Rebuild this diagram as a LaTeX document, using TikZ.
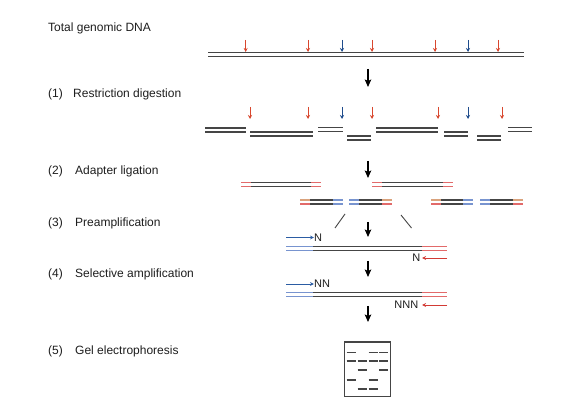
\documentclass[tikz,border=0pt]{standalone}
\usepackage{fontspec}
\setmainfont{Liberation Sans}
\usetikzlibrary{arrows.meta}
\definecolor{dna}{HTML}{454545}
\definecolor{txt}{HTML}{1E1E1E}
\definecolor{cutred}{HTML}{D8472E}
\definecolor{cutblue}{HTML}{1F4C8C}
\definecolor{adred}{HTML}{E26A6A}
\definecolor{adblue}{HTML}{7894CF}
\definecolor{adtan}{HTML}{D9A27C}
\definecolor{primblue}{HTML}{2B5CA3}
\definecolor{primred}{HTML}{D23A34}
\tikzset{
  lbl/.style={anchor=base west, inner sep=0pt, text=txt, font=\fontsize{12}{14}\selectfont},
  nlbl/.style={inner sep=0pt, text=txt, font=\fontsize{11}{12}\selectfont},
  strand/.style={line width=1.4pt, draw=dna},
  cutarrow/.style={line width=1pt, -{Stealth[length=4pt,width=4pt]}},
  bigarrow/.style={line width=1.9pt, draw=black, -{Stealth[length=7.5pt,width=6.5pt,inset=1.5pt]}},
  primer/.style={line width=0.9pt, -{Stealth[length=4pt,width=3.8pt]}},
  band/.style={line width=1.4pt, draw=dna},
}
\newcommand\dstrand[3]{\draw[strand] (#1,#3) -- (#2,#3); \draw[strand] (#1,#3+4) -- (#2,#3+4);}
\newcommand\colseg[5]{\draw[line width=1.4pt, draw=#4] (#1,#3) -- (#2,#3); \draw[line width=1.4pt, draw=#5] (#1,#3+4) -- (#2,#3+4);}
\begin{document}
\begin{tikzpicture}[x=1pt,y=-1pt]
\useasboundingbox[fill=white] (0,0) rectangle (575,411);

% labels
\node[lbl] (t0) at (48,31.5) {Total genomic DNA};
\node[lbl] (n1) at (48,97.3) {(1)};
\node[lbl] (t1) at (73,97.3) {Restriction digestion};
\node[lbl] (n2) at (48,174.3) {(2)};
\node[lbl] (t2) at (75,174.3) {Adapter ligation};
\node[lbl] (n3) at (48,226.7) {(3)};
\node[lbl] (t3) at (75,226.7) {Preamplification};
\node[lbl] (n4) at (48,277.7) {(4)};
\node[lbl] (t4) at (75,277.7) {Selective amplification};
\node[lbl] (n5) at (48,354) {(5)};
\node[lbl] (t5) at (75,354) {Gel electrophoresis};

% genomic DNA
\dstrand{208}{524}{52.5}
\foreach \x/\c in {245.7/cutred,308/cutred,342/cutblue,372/cutred,435/cutred,468/cutblue,498/cutred}
  \draw[cutarrow, \c] (\x,40) -- (\x,52);

% big arrows
\coordinate (a1s) at (368,69); \coordinate (a1e) at (368,87);
\draw[bigarrow] (a1s) -- (a1e);

% restriction fragments
\dstrand{205}{246}{128}
\dstrand{250}{313}{132}
\dstrand{318}{343}{127.5}
\dstrand{347}{371}{136}
\dstrand{376}{438}{128}
\dstrand{444}{468}{132}
\dstrand{477}{501}{136}
\dstrand{508}{532}{127.5}
\foreach \x/\c in {250/cutred,308/cutred,342/cutblue,372/cutred,438/cutred,468/cutblue,502/cutred}
  \draw[cutarrow, \c] (\x,107) -- (\x,119);

\coordinate (a2s) at (368,161); \coordinate (a2e) at (368,178);
\draw[bigarrow] (a2s) -- (a2e);

% adapter ligation
\dstrand{251}{311}{182.5}
\colseg{241}{251}{182.5}{adred}{adred}
\colseg{311}{321}{182.5}{adred}{adred}
\dstrand{382}{443}{182.5}
\colseg{372}{382}{182.5}{adred}{adred}
\colseg{443}{453}{182.5}{adred}{adred}

\dstrand{310}{333}{200}
\colseg{300}{310}{200}{adtan}{adred}
\colseg{333}{343}{200}{adblue}{adblue}
\dstrand{359}{382}{200}
\colseg{349}{359}{200}{adblue}{adblue}
\colseg{382}{392}{200}{adtan}{adred}
\dstrand{441}{463}{200}
\colseg{431}{441}{200}{adtan}{adred}
\colseg{463}{473}{200}{adblue}{adblue}
\dstrand{490}{513}{200}
\colseg{480}{490}{200}{adblue}{adblue}
\colseg{513}{523}{200}{adtan}{adred}

% selection lines
\draw[line width=0.9pt, dna] (335,228) -- (345,214);
\draw[line width=0.9pt, dna] (401,215) -- (411.5,228);

\coordinate (a3s) at (368,222); \coordinate (a3e) at (368,237);
\draw[bigarrow] (a3s) -- (a3e);

% preamplification
\node[nlbl, anchor=west] (pn1) at (314,237.5) {N};
\coordinate (pb1) at (286,237.5);
\draw[primer, primblue] (pb1) -- (pn1.west);
\dstrand{313}{422}{246.5}
\colseg{286}{313}{246.5}{adblue}{adblue}
\colseg{422}{447}{246.5}{adred}{adred}
\node[nlbl, anchor=east] (pn2) at (420.5,258) {N};
\coordinate (pr1) at (447,258);
\draw[primer, primred] (pr1) -- ([xshift=1.5pt]pn2.east);

\coordinate (a4s) at (368,261); \coordinate (a4e) at (368,277);
\draw[bigarrow] (a4s) -- (a4e);

% selective amplification
\node[nlbl, anchor=west] (sn1) at (314,284) {NN};
\coordinate (sb1) at (286,284);
\draw[primer, primblue] (sb1) -- (sn1.west);
\dstrand{313}{422}{292.5}
\colseg{286}{313}{292.5}{adblue}{adblue}
\colseg{422}{447}{292.5}{adred}{adred}
\node[nlbl, anchor=east] (sn2) at (418.5,305) {NNN};
\coordinate (sr1) at (447,305);
\draw[primer, primred] (sr1) -- ([xshift=3.5pt]sn2.east);

\coordinate (a5s) at (368,306); \coordinate (a5e) at (368,322);
\draw[bigarrow] (a5s) -- (a5e);

% gel
\draw[line width=1.2pt, dna] (344.5,342) rectangle (390.5,396.5);
\foreach \y/\lanes in {352.7/{1,3,4}, 361/{1,2,3,4}, 370/{2,4}, 380/{1,3}, 389/{2,3}}{
  \foreach \l in \lanes {
    \pgfmathsetmacro\xa{346.7+(\l-1)*10.9}
    \draw[band] (\xa,\y) -- (\xa+9,\y);
  }
}
\end{tikzpicture}
\end{document}
